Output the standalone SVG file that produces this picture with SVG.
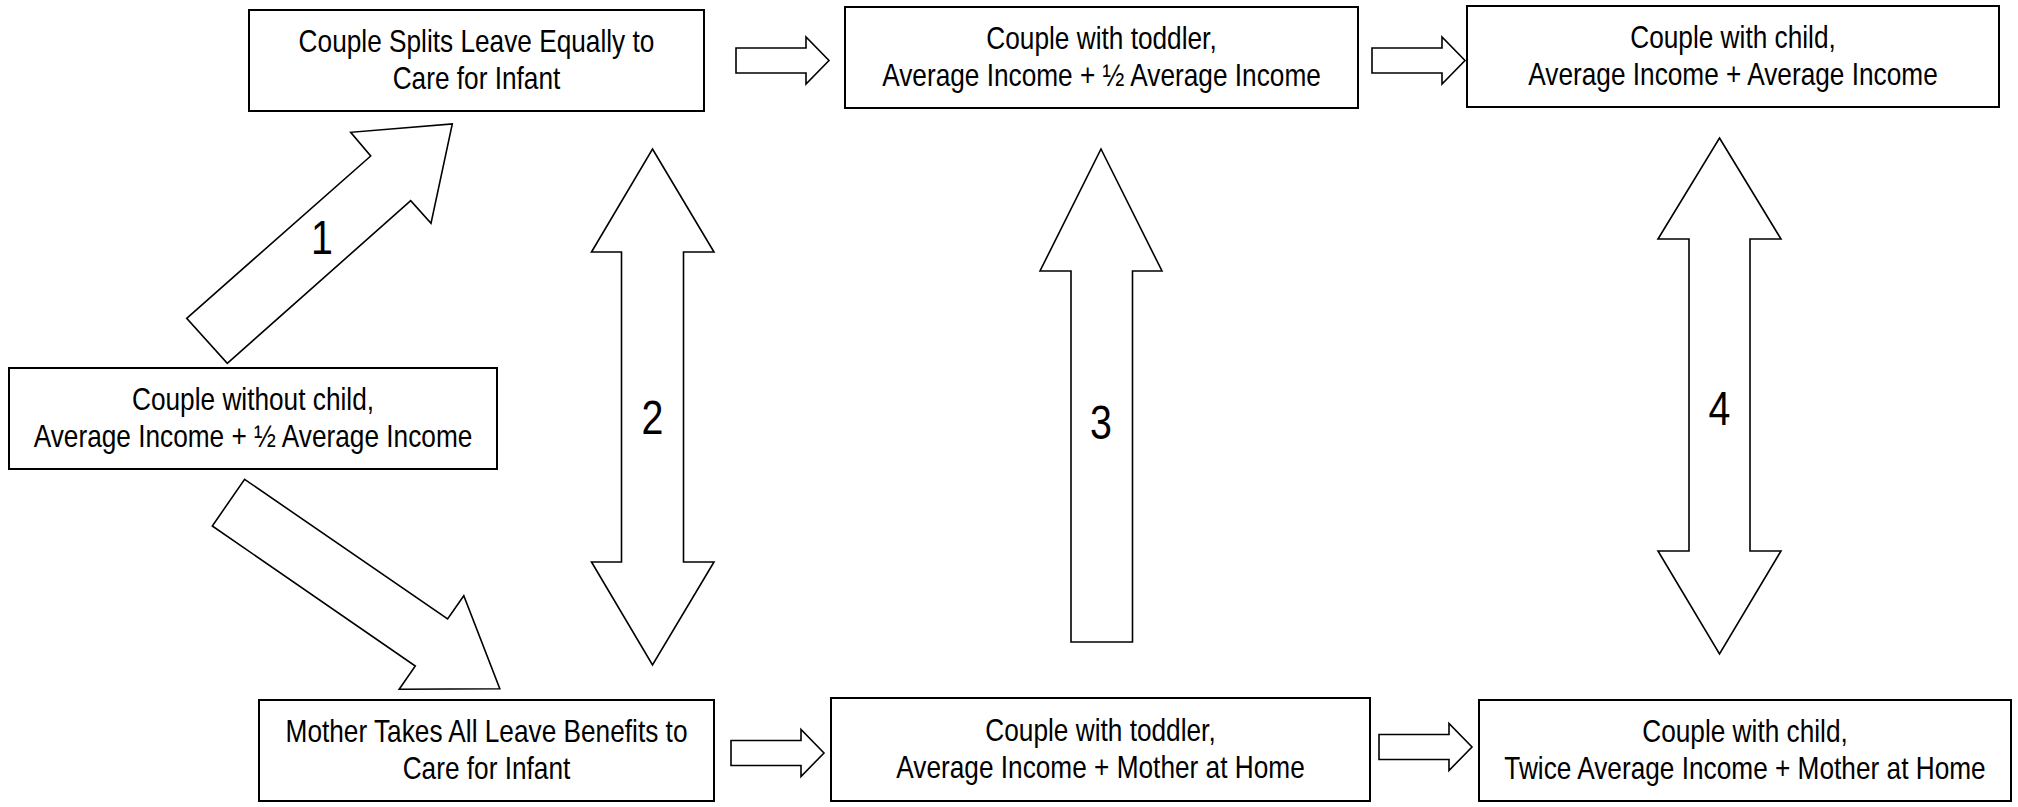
<svg xmlns="http://www.w3.org/2000/svg" width="2018" height="807" viewBox="0 0 2018 807">
<style>
.box{fill:#fff;stroke:#000;stroke-width:2}
.arr{fill:#fff;stroke:#000;stroke-width:1.6;stroke-linejoin:miter}
.t{font-family:"Liberation Sans",Arial,sans-serif;font-size:32px;text-anchor:middle;fill:#000}
.n{font-family:"Liberation Sans",Arial,sans-serif;font-size:48px;text-anchor:middle;fill:#000}
</style>
<defs>
<path id="sa" d="M0,-12.5 H70 V-23.5 L93,0 L70,23.5 V12.5 H0 Z"/>
</defs>
<rect width="2018" height="807" fill="#fff"/>
<g id="connectors">
<polygon class="arr" points="186.7,318.3 370.7,156 350.7,132.3 452.3,124 431,223.3 410.7,200.7 227.3,363.3"/>
<polygon class="arr" points="244.6,479.3 447.6,619 463.8,595.7 499.8,688.7 399.2,689.3 415.3,666 212.3,526"/>
<polygon class="arr" points="652.5,149 714,252 683.5,252 683.5,562 714,562 652.5,665 591.5,562 621.5,562 621.5,252 591.5,252"/>
<polygon class="arr" points="1101,149 1162,271 1132.5,271 1132.5,642 1071,642 1071,271 1040,271"/>
<polygon class="arr" points="1719.5,138 1781,239 1750,239 1750,551 1781,551 1719.5,654 1658,551 1689,551 1689,239 1658,239"/>
<use href="#sa" class="arr" x="736" y="60.5"/>
<use href="#sa" class="arr" x="1372" y="60.5"/>
<use href="#sa" class="arr" x="731" y="753"/>
<use href="#sa" class="arr" x="1379" y="747"/>
<text class="n" transform="matrix(0.82 0 0 1 322 0)" x="0" y="254">1</text>
<text class="n" transform="matrix(0.82 0 0 1 652.5 0)" x="0" y="434">2</text>
<text class="n" transform="matrix(0.82 0 0 1 1101 0)" x="0" y="439">3</text>
<text class="n" transform="matrix(0.82 0 0 1 1719.5 0)" x="0" y="425">4</text>
</g>
<g id="n-splits">
<rect class="box" x="249" y="10" width="455" height="101"/>
<g transform="matrix(0.82 0 0 1 476.5 0)">
<text class="t" x="0" y="52">Couple Splits Leave Equally to</text>
<text class="t" x="0" y="89">Care for Infant</text>
</g>
</g>
<g id="n-toddler-top">
<rect class="box" x="845" y="7" width="513" height="101"/>
<g transform="matrix(0.82 0 0 1 1101.5 0)">
<text class="t" x="0" y="49">Couple with toddler,</text>
<text class="t" x="0" y="86">Average Income + ½ Average Income</text>
</g>
</g>
<g id="n-child-top">
<rect class="box" x="1467" y="6" width="532" height="101"/>
<g transform="matrix(0.82 0 0 1 1733 0)">
<text class="t" x="0" y="48">Couple with child,</text>
<text class="t" x="0" y="85">Average Income + Average Income</text>
</g>
</g>
<g id="n-nochild">
<rect class="box" x="9" y="368" width="488" height="101"/>
<g transform="matrix(0.82 0 0 1 253 0)">
<text class="t" x="0" y="410">Couple without child,</text>
<text class="t" x="0" y="447">Average Income + ½ Average Income</text>
</g>
</g>
<g id="n-mother">
<rect class="box" x="259" y="700" width="455" height="101"/>
<g transform="matrix(0.82 0 0 1 486.5 0)">
<text class="t" x="0" y="742">Mother Takes All Leave Benefits to</text>
<text class="t" x="0" y="779">Care for Infant</text>
</g>
</g>
<g id="n-toddler-bottom">
<rect class="box" x="831" y="698" width="539" height="103"/>
<g transform="matrix(0.82 0 0 1 1100.5 0)">
<text class="t" x="0" y="741">Couple with toddler,</text>
<text class="t" x="0" y="778">Average Income + Mother at Home</text>
</g>
</g>
<g id="n-child-bottom">
<rect class="box" x="1479" y="700" width="532" height="101"/>
<g transform="matrix(0.82 0 0 1 1745 0)">
<text class="t" x="0" y="742">Couple with child,</text>
<text class="t" x="0" y="779">Twice Average Income + Mother at Home</text>
</g>
</g>
</svg>
